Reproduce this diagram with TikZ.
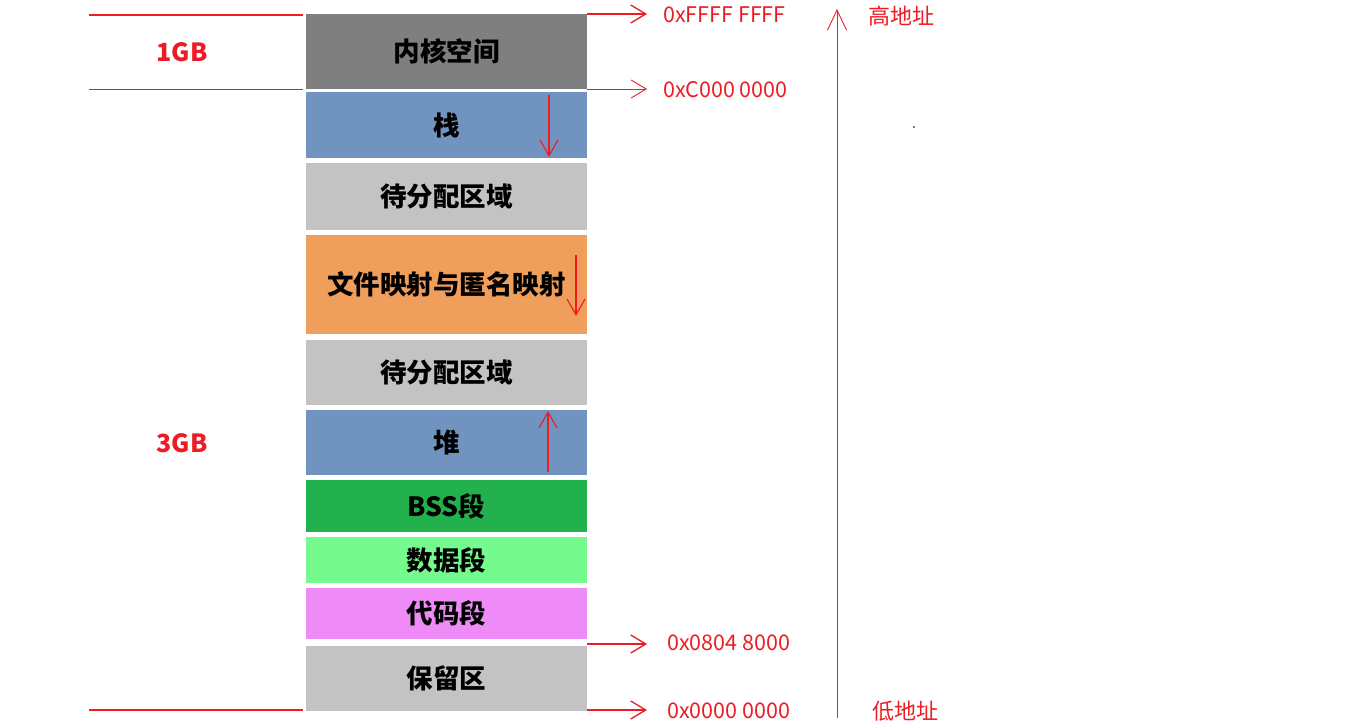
\documentclass[tikz,border=0pt]{standalone}
\usepackage{fontspec}
\setmainfont{Noto Sans CJK SC}
\usetikzlibrary{arrows.meta}

\definecolor{kernelgray}{HTML}{7F7F7F}
\definecolor{segblue}{HTML}{7093C0}
\definecolor{freegray}{HTML}{C3C3C3}
\definecolor{mmaporange}{HTML}{F09E5C}
\definecolor{bssgreen}{HTML}{22B14C}
\definecolor{datagreen}{HTML}{75FA8D}
\definecolor{codepink}{HTML}{EE8BF6}
\definecolor{addrred}{HTML}{ED1C24}

\tikzset{
  seg/.style={rectangle, inner sep=0pt, outer sep=0pt, minimum width=281pt, font=\fontsize{26.5}{26.5}\selectfont\bfseries},
  addr/.style={anchor=west, inner sep=0pt, text=addrred, font=\fontsize{21.5}{21.5}\selectfont},
  sizelabel/.style={inner sep=0pt, text=addrred, font=\fontsize{25}{25}\selectfont\bfseries},
  barb/.style={-{Straight Barb[length=15pt,width=18pt]}, addrred, line width=1.3pt},
  growarrow/.style={-{Straight Barb[length=16pt,width=18pt]}, addrred, line width=1.1pt}
}

\begin{document}
\begin{tikzpicture}[x=1pt,y=-1pt]
  \useasboundingbox (0,0) rectangle (1365,727);

  % Segmente des Adressraums
  \node[seg, fill=kernelgray, minimum height=75pt] (kernel) at (446.5,51.5) {内核空间};
  \node[seg, fill=segblue, minimum height=66pt] (stack) at (446.5,125) {栈};
  \node[seg, fill=freegray, minimum height=67pt] (freeA) at (446.5,196.5) {待分配区域};
  \node[seg, fill=mmaporange, minimum height=99pt] (mmap) at (446.5,284.5) {文件映射与匿名映射};
  \node[seg, fill=freegray, minimum height=65pt] (freeB) at (446.5,372.5) {待分配区域};
  \node[seg, fill=segblue, minimum height=65pt] (heap) at (446.5,442.5) {堆};
  \node[seg, fill=bssgreen, minimum height=52pt] (bss) at (446.5,506) {BSS段};
  \node[seg, fill=datagreen, minimum height=46pt] (data) at (446.5,560) {数据段};
  \node[seg, fill=codepink, minimum height=51pt] (code) at (446.5,613.5) {代码段};
  \node[seg, fill=freegray, minimum height=65pt] (reserved) at (446.5,678.5) {保留区};

  % Wachstumsrichtung
  \coordinate (stackTop) at (549,95);
  \coordinate (stackEnd) at (549,157);
  \coordinate (mmapTop) at (576,255);
  \coordinate (mmapEnd) at (576,316);
  \coordinate (heapBot) at (548,472);
  \coordinate (heapEnd) at (548,411);
  \draw[growarrow] (stackTop) -- (stackEnd);
  \draw[growarrow] (mmapTop) -- (mmapEnd);
  \draw[growarrow] (heapBot) -- (heapEnd);

  % Groessen links
  \node[sizelabel] (oneGB) at (182,52) {1GB};
  \node[sizelabel] (threeGB) at (182,443) {3GB};
  \coordinate (lTop) at (89,15);
  \coordinate (lMid) at (89,89);
  \coordinate (lBot) at (89,710);
  \draw[addrred, line width=2pt] (lTop) -- (303,15);
  \draw[addrred, line width=0.9pt] (lMid) -- (303,89);
  \draw[addrred, line width=2pt] (lBot) -- (303,710);

  % Adressen rechts
  \node[addr] (aTop) at (663,15) {0xFFFF FFFF};
  \node[addr] (aKern) at (663,90) {0xC000 0000};
  \node[addr] (aCode) at (667,643) {0x0804 8000};
  \node[addr] (aZero) at (667,711) {0x0000 0000};
  \coordinate (pTop) at (587,14);
  \coordinate (pKern) at (587,89);
  \coordinate (pCode) at (587,644);
  \coordinate (pZero) at (587,710);
  \draw[barb] (pTop) -- (647,14);
  \draw[barb, line width=0.9pt] (pKern) -- (647,89);
  \draw[barb] (pCode) -- (647,644);
  \draw[barb] (pZero) -- (647,710);

  % Adressachse
  \coordinate (axisLow) at (837,718);
  \coordinate (axisHigh) at (837,9);
  \draw[-{Straight Barb[length=20pt,width=19pt]}, addrred, line width=0.9pt] (axisLow) -- (axisHigh);
  \node[addr, font=\fontsize{22}{22}\selectfont] (high) at (868,16) {高地址};
  \node[addr, font=\fontsize{22}{22}\selectfont] (low) at (872,711) {低地址};

  \fill (914,127) circle (0.8pt);
\end{tikzpicture}
\end{document}
